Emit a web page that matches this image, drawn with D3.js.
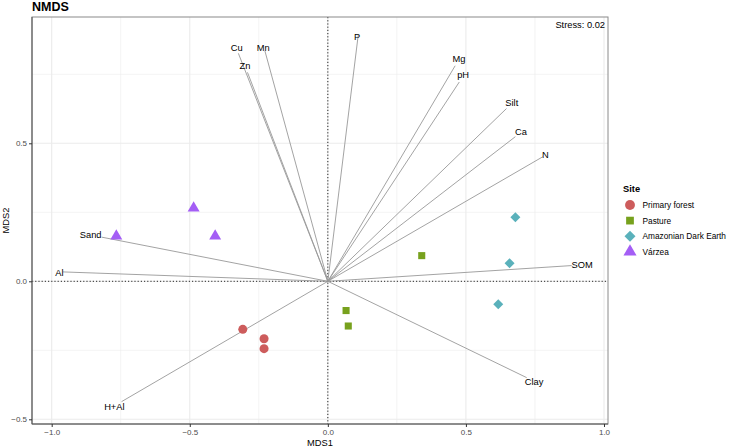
<!DOCTYPE html>
<html>
<head>
<meta charset="utf-8">
<script src="https://cdn.jsdelivr.net/npm/d3@7"></script>
<style>
  html, body { margin: 0; padding: 0; background: #fff; }
  text { font-family: "Liberation Sans", Arial, Helvetica, sans-serif; }
</style>
</head>
<body>
<svg id="chart" width="731" height="448"></svg>
<script>
// ---- data ----
const siteNames = ["Primary forest", "Pasture", "Amazonian Dark Earth", "Várzea"];
const siteColors = ["#CD5C5C", "#77A11D", "#5AB1BB", "#A45EF5"];
const siteShapes = ["circle", "square", "diamond", "triangle"];

const pointSite = ["Primary forest", "Primary forest", "Primary forest",
                   "Pasture", "Pasture", "Pasture",
                   "Amazonian Dark Earth", "Amazonian Dark Earth", "Amazonian Dark Earth",
                   "Várzea", "Várzea", "Várzea"];
const pointMDS1 = [-0.308, -0.231, -0.231, 0.340, 0.066, 0.074, 0.679, 0.658, 0.617, -0.766, -0.486, -0.408];
const pointMDS2 = [-0.174, -0.208, -0.244, 0.093, -0.106, -0.162, 0.232, 0.065, -0.083, 0.164, 0.265, 0.164];

const vecNames = ["Cu", "Zn", "Mn", "P", "Mg", "pH", "Silt", "Ca", "N", "SOM", "Clay", "H+Al", "Al", "Sand"];
const vecX = [-0.324, -0.291, -0.228, 0.110, 0.461, 0.476, 0.647, 0.679, 0.778, 0.883, 0.720, -0.747, -0.959, -0.819];
const vecY = [0.826, 0.757, 0.835, 0.892, 0.781, 0.722, 0.626, 0.524, 0.451, 0.057, -0.349, -0.436, 0.034, 0.160];
const lblX = [-0.330, -0.300, -0.234, 0.106, 0.475, 0.490, 0.666, 0.699, 0.788, 0.921, 0.747, -0.773, -0.972, -0.859];
const lblY = [0.845, 0.780, 0.845, 0.885, 0.806, 0.746, 0.647, 0.542, 0.458, 0.059, -0.366, -0.454, 0.031, 0.168];

const xMajor = [-1.0, -0.5, 0.0, 0.5, 1.0];
const xMinor = [-0.75, -0.25, 0.25, 0.75];
const yMajor = [-0.5, 0.0, 0.5];
const yMinor = [-0.25, 0.25, 0.75];
const stressText = "Stress: 0.02";

// ---- layout ----
const svg = d3.select("#chart");
const pL = 32, pR = 608, pT = 17, pB = 424;
const x = d3.scaleLinear().domain([-1.0713, 1.0145]).range([pL, pR]);
const y = d3.scaleLinear().domain([-0.517, 0.9576]).range([pB, pT]);

const fmt = d => (d < 0 ? "\u2212" : "") + Math.abs(d).toFixed(1);

// grid
const g = svg.append("g");
g.selectAll(".vminor").data(xMinor).enter().append("line")
  .attr("x1", d => x(d)).attr("x2", d => x(d)).attr("y1", pT).attr("y2", pB)
  .attr("stroke", "#ebebeb").attr("stroke-width", 0.6);
g.selectAll(".hminor").data(yMinor).enter().append("line")
  .attr("y1", d => y(d)).attr("y2", d => y(d)).attr("x1", pL).attr("x2", pR)
  .attr("stroke", "#ebebeb").attr("stroke-width", 0.6);
g.selectAll(".vmajor").data(xMajor).enter().append("line")
  .attr("x1", d => x(d)).attr("x2", d => x(d)).attr("y1", pT).attr("y2", pB)
  .attr("stroke", "#ebebeb").attr("stroke-width", 1.1);
g.selectAll(".hmajor").data(yMajor).enter().append("line")
  .attr("y1", d => y(d)).attr("y2", d => y(d)).attr("x1", pL).attr("x2", pR)
  .attr("stroke", "#ebebeb").attr("stroke-width", 1.1);

// reference dotted lines
svg.append("line").attr("x1", pL).attr("x2", pR).attr("y1", y(0)).attr("y2", y(0))
  .attr("stroke", "#111").attr("stroke-width", 0.9).attr("stroke-dasharray", "1.2,2");
svg.append("line").attr("x1", x(0)).attr("x2", x(0)).attr("y1", pT).attr("y2", pB)
  .attr("stroke", "#111").attr("stroke-width", 0.9).attr("stroke-dasharray", "1.2,2");

// vectors
const vecs = vecNames.map((n, i) => ({ n, x: vecX[i], y: vecY[i], lx: lblX[i], ly: lblY[i] }));
svg.append("g").selectAll("line").data(vecs).enter().append("line")
  .attr("x1", x(0)).attr("y1", y(0))
  .attr("x2", d => x(d.x)).attr("y2", d => y(d.y))
  .attr("stroke", "#999").attr("stroke-width", 0.9);

// points
const symType = { circle: d3.symbolCircle, square: d3.symbolSquare, diamond: d3.symbolSquare, triangle: d3.symbolTriangle };
const symSize = { circle: 64, square: 50, diamond: 50, triangle: 62 };
const symRot = { circle: 0, square: 0, diamond: 45, triangle: 0 };
const pts = pointSite.map((s, i) => ({ s, x: pointMDS1[i], y: pointMDS2[i] }));
svg.append("g").selectAll("path").data(pts).enter().append("path")
  .attr("transform", d => { const sh = siteShapes[siteNames.indexOf(d.s)]; return `translate(${x(d.x)},${y(d.y)}) rotate(${symRot[sh]})`; })
  .attr("d", d => { const sh = siteShapes[siteNames.indexOf(d.s)]; return d3.symbol().type(symType[sh]).size(symSize[sh])(); })
  .attr("fill", d => siteColors[siteNames.indexOf(d.s)]);

// vector labels
svg.append("g").selectAll("text").data(vecs).enter().append("text")
  .attr("x", d => x(d.lx)).attr("y", d => y(d.ly))
  .attr("text-anchor", "middle").attr("dominant-baseline", "central")
  .attr("font-size", 9.3).attr("fill", "#000").text(d => d.n);

// panel border
svg.append("rect").attr("x", pL).attr("y", pT).attr("width", pR - pL).attr("height", pB - pT)
  .attr("fill", "none").attr("stroke", "#8a8a8a").attr("stroke-width", 1);
svg.append("line").attr("x1", pL).attr("x2", pL).attr("y1", pT).attr("y2", pB).attr("stroke", "#555").attr("stroke-width", 1);
svg.append("line").attr("x1", pL).attr("x2", pR).attr("y1", pB).attr("y2", pB).attr("stroke", "#555").attr("stroke-width", 1);

// axes
const xAxis = d3.axisBottom(x).tickValues(xMajor).tickSize(3).tickPadding(2).tickFormat(fmt);
const gx = svg.append("g").attr("transform", `translate(0,${pB})`).call(xAxis);
gx.select(".domain").remove();
gx.selectAll("line").attr("stroke", "#333");
gx.selectAll("text").attr("font-size", 8).attr("fill", "#4d4d4d").attr("font-family", "Liberation Sans, Arial, sans-serif");

const yAxis = d3.axisLeft(y).tickValues(yMajor).tickSize(3).tickPadding(2).tickFormat(fmt);
const gy = svg.append("g").attr("transform", `translate(${pL},0)`).call(yAxis);
gy.select(".domain").remove();
gy.selectAll("line").attr("stroke", "#333");
gy.selectAll("text").attr("font-size", 8).attr("fill", "#4d4d4d").attr("font-family", "Liberation Sans, Arial, sans-serif");

// axis titles
svg.append("text").attr("x", (pL + pR) / 2).attr("y", 446).attr("text-anchor", "middle")
  .attr("font-size", 9.3).attr("fill", "#000").text("MDS1");
svg.append("text").attr("transform", `translate(9,${(pT + pB) / 2}) rotate(-90)`).attr("text-anchor", "middle")
  .attr("font-size", 9.3).attr("fill", "#000").text("MDS2");

// title
svg.append("text").attr("x", pL).attr("y", 11).attr("font-size", 12.5).attr("font-weight", "bold")
  .attr("fill", "#000").text("NMDS");

// stress
svg.append("text").attr("x", pR - 3).attr("y", 27.5).attr("text-anchor", "end")
  .attr("font-size", 9.3).attr("fill", "#000").text(stressText);

// legend
const lg = svg.append("g").attr("transform", "translate(623,0)");
lg.append("text").attr("x", 0).attr("y", 192).attr("font-size", 9.3).attr("font-weight", "bold").text("Site");
siteNames.forEach((s, i) => {
  const cy = 205 + i * 15.6;
  const sh = siteShapes[i];
  lg.append("path").attr("transform", `translate(7,${cy}) rotate(${symRot[sh]})`)
    .attr("d", d3.symbol().type(symType[sh]).size(symSize[sh] * 1.2)())
    .attr("fill", siteColors[i]);
  lg.append("text").attr("x", 19.5).attr("y", cy).attr("dominant-baseline", "central")
    .attr("font-size", 8.3).attr("fill", "#000").text(s);
});
</script>
</body>
</html>
